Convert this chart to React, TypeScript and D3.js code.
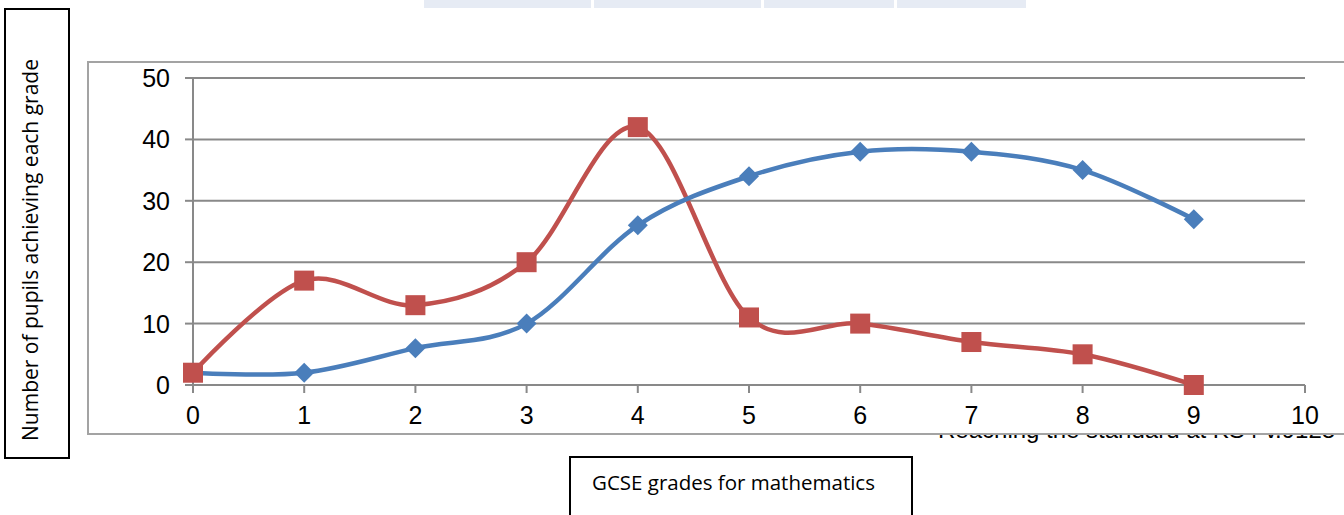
import React from 'react';
import * as d3 from 'd3';

const grades = [0, 1, 2, 3, 4, 5, 6, 7, 8, 9];
const blueSeries = [2, 2, 6, 10, 26, 34, 38, 38, 35, 27];
const redSeries = [2, 17, 13, 20, 42, 11, 10, 7, 5, 0];
const yTicks = [0, 10, 20, 30, 40, 50];
const xTicks = [0, 1, 2, 3, 4, 5, 6, 7, 8, 9, 10];

const W = 1344;
const H = 515;

const BLUE = '#4a7ebb';
const RED = '#c0504d';
const GRID = '#898989';

const App = () => {
  const x = d3.scaleLinear().domain([0, 10]).range([193, 1305]);
  const y = d3.scaleLinear().domain([0, 50]).range([385, 78]);

  const line = d3
    .line<number>()
    .x((d, i) => x(grades[i]))
    .y(d => y(d))
    .curve(d3.curveCardinal.tension(0));

  const diamond = (cx: number, cy: number, r: number) =>
    `M${cx},${cy - r}L${cx + r},${cy}L${cx},${cy + r}L${cx - r},${cy}Z`;

  return (
    <svg
      width={W}
      height={H}
      style={{ position: 'absolute', left: 0, top: 0, background: '#fff' }}
    >
      {/* strip of light cells at the very top */}
      {[
        [424, 591],
        [594, 761],
        [764, 894],
        [897, 1026],
      ].map(([a, b], i) => (
        <rect key={i} x={a} y={0} width={b - a} height={8} fill="#e6ebf4" />
      ))}

      {/* text from the page behind the chart, partly hidden */}
      <text
        x={938}
        y={438}
        fontFamily="Liberation Sans, Arial, sans-serif"
        fontSize={24}
        fill="#000"
      >
        Reaching the standard at KS4 v.9128
      </text>

      {/* chart box */}
      <rect x={88} y={62} width={1300} height={372} fill="#fff" stroke="#a3a3a3" strokeWidth={2} />

      {/* gridlines */}
      {yTicks.slice(1).map(t => (
        <line key={t} x1={x(0)} x2={x(10)} y1={y(t)} y2={y(t)} stroke={GRID} strokeWidth={2} />
      ))}

      {/* axes */}
      <line x1={x(0)} x2={x(0)} y1={y(50)} y2={y(0)} stroke={GRID} strokeWidth={2} />
      <line x1={x(0)} x2={x(10)} y1={y(0)} y2={y(0)} stroke={GRID} strokeWidth={2} />
      {yTicks.map(t => (
        <line key={t} x1={x(0) - 8} x2={x(0)} y1={y(t)} y2={y(t)} stroke={GRID} strokeWidth={2} />
      ))}
      {xTicks.map(t => (
        <line key={t} x1={x(t)} x2={x(t)} y1={y(0)} y2={y(0) + 8} stroke={GRID} strokeWidth={2} />
      ))}

      {/* tick labels */}
      {yTicks.map(t => (
        <text
          key={t}
          x={170}
          y={y(t)}
          dy="0.36em"
          textAnchor="end"
          fontFamily="Liberation Sans, Arial, sans-serif"
          fontSize={25}
          fill="#000"
        >
          {t}
        </text>
      ))}
      {xTicks.map(t => (
        <text
          key={t}
          x={x(t)}
          y={424}
          textAnchor="middle"
          fontFamily="Liberation Sans, Arial, sans-serif"
          fontSize={25}
          fill="#000"
        >
          {t}
        </text>
      ))}

      {/* lines */}
      <path d={line(redSeries) || ''} fill="none" stroke={RED} strokeWidth={4.5} />
      <path d={line(blueSeries) || ''} fill="none" stroke={BLUE} strokeWidth={4.5} />

      {/* markers */}
      {blueSeries.map((v, i) => (
        <path key={i} d={diamond(x(grades[i]), y(v), 10)} fill={BLUE} />
      ))}
      {redSeries.map((v, i) => (
        <rect key={i} x={x(grades[i]) - 10} y={y(v) - 10} width={20} height={20} fill={RED} />
      ))}

      {/* y axis title box */}
      <rect x={5} y={9} width={64} height={449} fill="#fff" stroke="#000" strokeWidth={2} />
      <text
        transform={`translate(38,250) rotate(-90)`}
        textAnchor="middle"
        fontFamily="Open Sans, sans-serif"
        fontSize={21}
        fill="#000"
      >
        Number of pupils achieving each grade
      </text>

      {/* x axis title box */}
      <rect x={570} y={457} width={342} height={70} fill="#fff" stroke="#000" strokeWidth={2} />
      <text x={592} y={490} fontFamily="Open Sans, sans-serif" fontSize={20.5} fill="#000">
        GCSE grades for mathematics
      </text>
    </svg>
  );
};

export default App;
